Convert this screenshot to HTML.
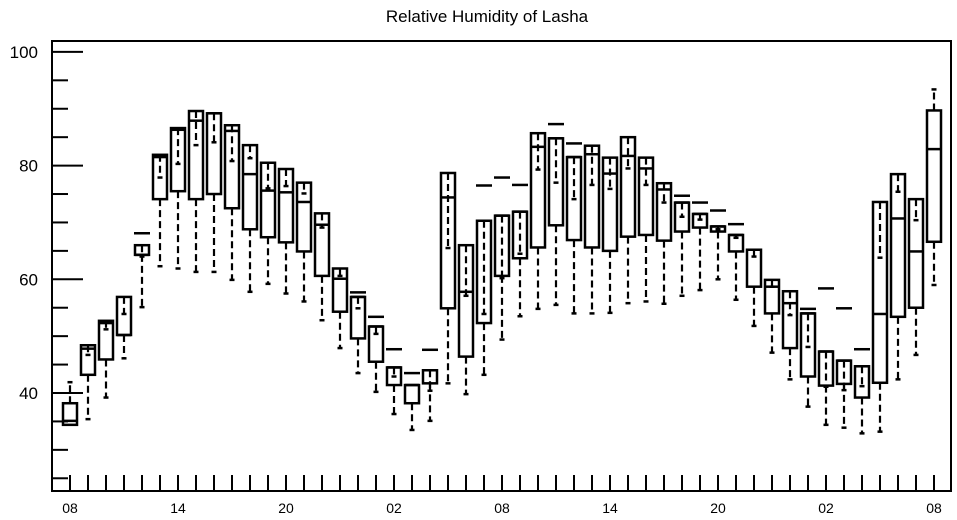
<!DOCTYPE html>
<html><head><meta charset="utf-8"><style>
html,body{margin:0;padding:0;background:#fff;}
svg{display:block;font-family:"Liberation Sans",sans-serif;}
</style></head><body>
<svg id="chart" width="957" height="520" viewBox="0 0 957 520">
<text x="487" y="22" text-anchor="middle" font-size="17">Relative Humidity of Lasha</text>
<rect x="52" y="41" width="899" height="450" fill="none" stroke="#000" stroke-width="2"/>
<g id="axes"></g>
<g id="marks"></g>
</svg>
<script>
const lo   = [34.4,35.4,39.2,46.1,55.1,62.3,61.9,61.3,61.3,59.9,57.8,59.2,57.5,56.1,52.8,47.9,43.5,40.2,36.3,33.5,35.1,41.7,39.8,43.2,49.4,53.5,54.8,55.5,54.0,54.0,54.1,55.8,56.1,55.7,57.1,58.1,60.0,56.4,51.8,47.1,42.4,37.6,34.4,33.9,32.9,33.2,42.4,46.7,59.0];
const q1   = [34.4,43.2,45.9,50.2,64.3,74.1,75.5,74.1,75.0,72.5,68.8,67.4,66.5,64.9,60.6,54.3,49.6,45.5,41.4,38.2,41.7,54.9,46.4,52.3,60.6,63.7,65.6,69.5,66.9,65.6,65.0,67.5,67.8,66.8,68.4,69.1,68.4,64.9,58.7,54.0,47.9,42.9,41.3,41.6,39.2,41.8,53.4,55.0,66.6];
const med  = [35.1,47.8,52.3,50.2,64.3,81.5,86.3,87.9,89.2,86.1,78.5,75.6,75.3,73.6,69.6,60.1,56.9,51.7,44.5,41.4,44.0,74.4,57.8,70.3,71.2,71.9,83.3,84.8,81.5,82.0,78.6,81.7,79.5,75.8,73.5,71.5,69.3,67.8,65.2,58.7,55.8,54.0,47.3,45.7,44.7,53.9,70.7,64.9,82.9];
const q3   = [38.2,48.4,52.7,56.9,66.0,81.9,86.6,89.6,89.2,87.1,83.6,80.5,79.4,77.0,71.6,61.9,56.9,51.7,44.5,41.4,44.0,78.7,66.0,70.3,71.2,71.9,85.7,84.8,81.5,83.5,81.4,85.0,81.4,76.9,73.5,71.5,69.3,67.8,65.2,59.9,57.9,54.0,47.3,45.7,44.7,73.6,78.5,74.1,89.7];
const hi   = [41.9,46.7,51.2,53.9,64.0,77.9,80.3,83.6,84.1,80.8,81.3,76.0,76.4,75.1,69.1,60.6,54.9,50.4,42.9,41.4,40.4,65.5,57.1,53.9,60.2,64.5,79.3,77.0,74.1,76.6,75.9,79.5,76.6,73.5,71.0,70.5,68.8,67.3,64.0,58.7,53.7,48.1,41.1,40.5,41.2,63.8,75.4,70.4,93.4];
const flt  = [null,null,null,null,68.1,null,null,null,null,null,null,null,null,null,null,null,57.7,53.4,47.7,43.5,47.6,null,null,76.5,77.9,76.6,null,87.3,83.9,null,null,null,null,null,74.7,73.5,72.1,69.7,null,null,null,54.8,58.4,54.9,47.7,null,null,null,null];
const xTickLabels = ["08","14","20","02","08","14","20","02","08"];
const yTickLabels = [40,60,80,100];

const NS="http://www.w3.org/2000/svg";
const X0=52,X1=951,Y0=41,Y1=491;
function xS(h){return 70+h*18;}
function yS(v){return 393-(v-40)*5.685;}
function mk(parent,tag,attrs){const e=document.createElementNS(NS,tag);for(const k in attrs)e.setAttribute(k,attrs[k]);parent.appendChild(e);return e;}
const axes=document.getElementById('axes'), marks=document.getElementById('marks');

// y ticks
for(let v=25;v<=100;v+=5){
  const major=yTickLabels.indexOf(v)>=0;
  const t=mk(axes,'line',{x1:X0,x2:X0+(major?31:16),y1:yS(v),y2:yS(v),stroke:'#000','stroke-width':2});
  
  
}
yTickLabels.forEach(v=>{
  const t=mk(axes,'text',{x:38,y:yS(v)+6,'text-anchor':'end','font-size':17});
  t.textContent=String(v);
  
  
});
// x ticks
for(let h=0;h<lo.length;h++){
  const t=mk(axes,'line',{x1:xS(h),x2:xS(h),y1:Y1,y2:Y1-16,stroke:'#000','stroke-width':2});
  
  
}
xTickLabels.forEach((s,i)=>{
  const t=mk(axes,'text',{x:xS(i*6),y:513,'text-anchor':'middle','font-size':14});
  t.textContent=s;
  
  
});

// boxes
for(let i=0;i<lo.length;i++){
  const g=mk(marks,'g',{});
  
  
  const x=xS(i), hw=7;
  // lower whisker
  if(lo[i]<q1[i]){
    const w=mk(g,'line',{x1:x,x2:x,y1:yS(q1[i]),y2:yS(lo[i]),stroke:'#000','stroke-width':2.2,'stroke-dasharray':'7,4'});
    
    
    const c=mk(g,'line',{x1:x-2.5,x2:x+2.5,y1:yS(lo[i]),y2:yS(lo[i]),stroke:'#000','stroke-width':2.5});
    
    
  }
  // box
  const r=mk(g,'rect',{x:x-hw,y:yS(q3[i]),width:2*hw,height:Math.max(1,yS(q1[i])-yS(q3[i])),fill:'none',stroke:'#000','stroke-width':2.5});
  
  
  const m=mk(g,'line',{x1:x-hw,x2:x+hw,y1:yS(med[i]),y2:yS(med[i]),stroke:'#000','stroke-width':2.5});
  
  
  // upper whisker
  if(Math.abs(hi[i]-q3[i])>0.2){
    const w=mk(g,'line',{x1:x,x2:x,y1:yS(q3[i]),y2:yS(hi[i]),stroke:'#000','stroke-width':2.2,'stroke-dasharray':'7,4'});
    
    
    const c=mk(g,'line',{x1:x-2.5,x2:x+2.5,y1:yS(hi[i]),y2:yS(hi[i]),stroke:'#000','stroke-width':2.5});
    
    
  }
  if(flt[i]!==null){
    const f=mk(g,'line',{x1:x-8,x2:x+8,y1:yS(flt[i]),y2:yS(flt[i]),stroke:'#000','stroke-width':2.5});
    
    
  }
}
</script>
</body></html>
